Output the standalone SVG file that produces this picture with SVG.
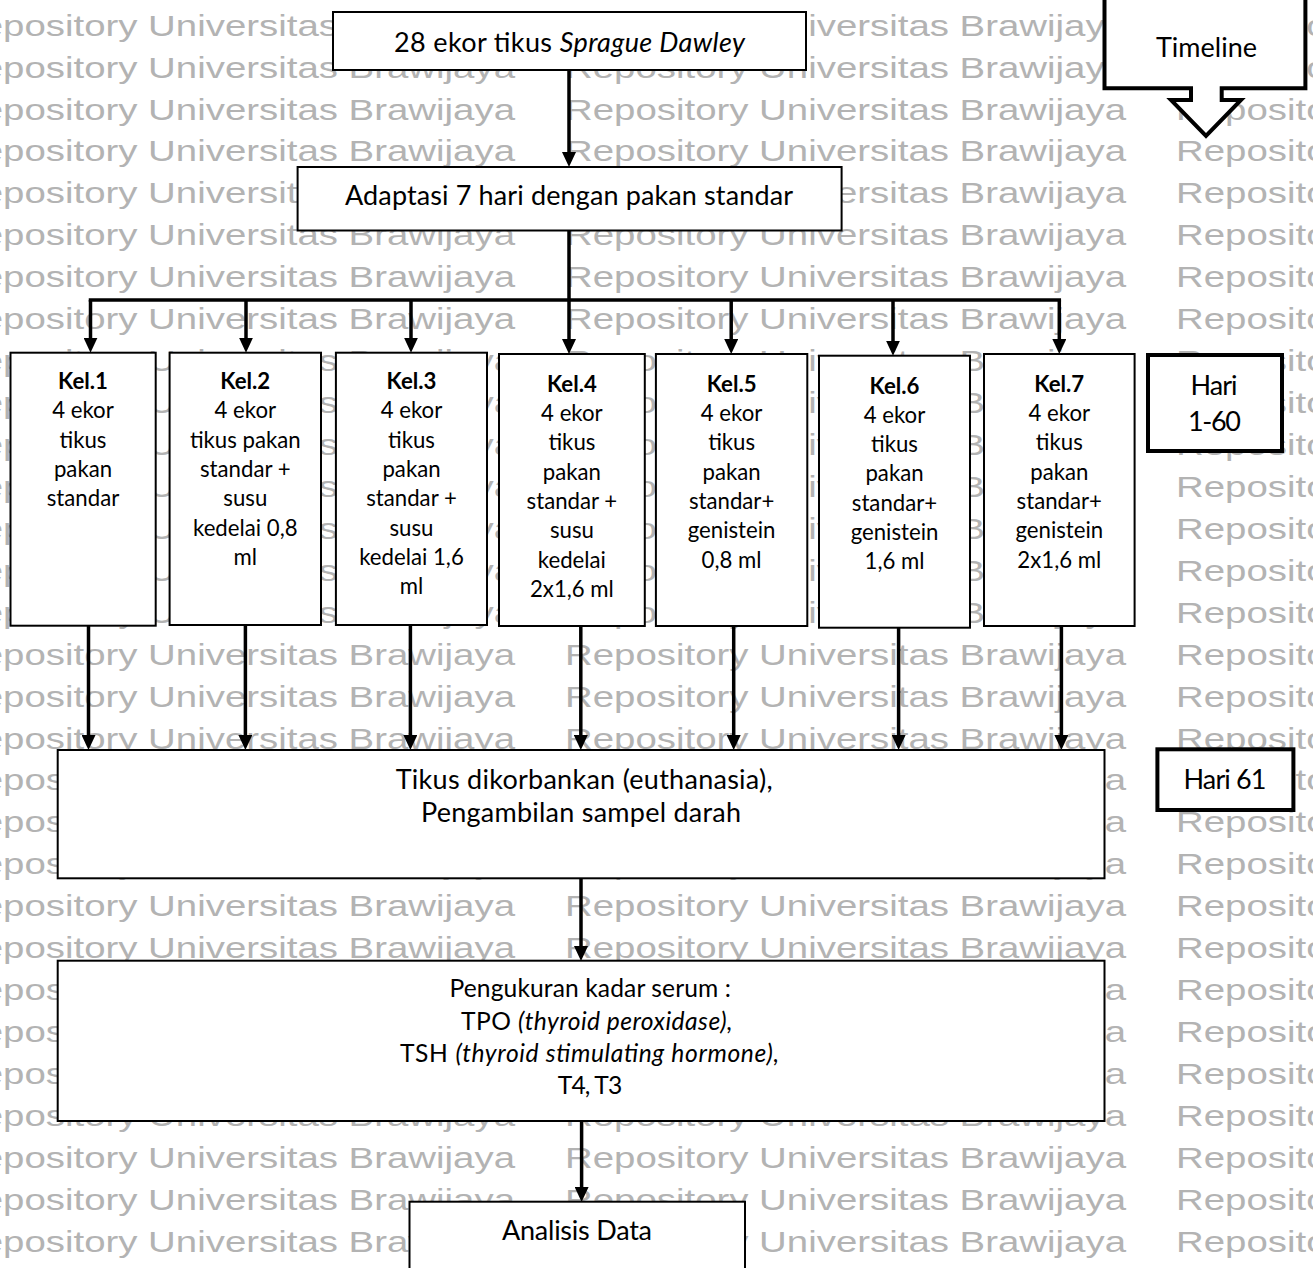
<svg xmlns="http://www.w3.org/2000/svg" xmlns:xlink="http://www.w3.org/1999/xlink" width="1313" height="1268" viewBox="0 0 1313 1268">
<style>
.wm{font-family:"Liberation Sans",Arial,sans-serif;font-size:30px;fill:#b3b3b3}
.box{fill:#fff;stroke:#000;stroke-width:2}
.thick{fill:#fff;stroke:#000;stroke-width:4}
.t{font-family:Lato,"Liberation Sans",sans-serif;fill:#000}
.main{font-size:27px}
.mid{text-anchor:middle}
.pg{font-size:24.6px}
.kel{font-size:22.2px;text-anchor:middle}
.kb{font-weight:bold}
.it{font-style:italic}
.conn line{stroke:#000;stroke-width:3.5;fill:none}
</style>
<defs>
<marker id="ah" markerUnits="userSpaceOnUse" markerWidth="15" markerHeight="14" viewBox="0 0 15 14" refX="5" refY="7" orient="auto">
<path d="M0,0 L15,7 L0,14 Z" fill="#000"/>
</marker>
<text id="wm" class="wm" textLength="561" lengthAdjust="spacingAndGlyphs">Repository Universitas Brawijaya</text>
<g id="wmrow"><use xlink:href="#wm" href="#wm" x="-46"/><use xlink:href="#wm" href="#wm" x="565"/><use xlink:href="#wm" href="#wm" x="1176"/></g>
</defs>
<rect width="1313" height="1268" fill="#fff"/>
<g id="watermark">
<use href="#wmrow" y="-6.2"/><use href="#wmrow" y="35.7"/><use href="#wmrow" y="77.63"/><use href="#wmrow" y="119.56"/><use href="#wmrow" y="161.49"/><use href="#wmrow" y="203.42"/><use href="#wmrow" y="245.35"/><use href="#wmrow" y="287.28"/><use href="#wmrow" y="329.21"/><use href="#wmrow" y="371.14"/><use href="#wmrow" y="413.07"/><use href="#wmrow" y="455"/><use href="#wmrow" y="496.93"/><use href="#wmrow" y="538.86"/><use href="#wmrow" y="580.79"/><use href="#wmrow" y="622.72"/><use href="#wmrow" y="664.65"/><use href="#wmrow" y="706.58"/><use href="#wmrow" y="748.51"/><use href="#wmrow" y="790.44"/><use href="#wmrow" y="832.37"/><use href="#wmrow" y="874.3"/><use href="#wmrow" y="916.23"/><use href="#wmrow" y="958.16"/><use href="#wmrow" y="1000.09"/><use href="#wmrow" y="1042.02"/><use href="#wmrow" y="1083.95"/><use href="#wmrow" y="1125.88"/><use href="#wmrow" y="1167.81"/><use href="#wmrow" y="1209.74"/><use href="#wmrow" y="1251.67"/>
</g>
<g class="conn" id="connectors">
<line x1="569" y1="70" x2="569" y2="157" marker-end="url(#ah)"/>
<line x1="569" y1="230" x2="569" y2="300"/>
<line x1="90.5" y1="300" x2="1059.3" y2="300" stroke-linecap="square"/>
<line x1="90.5" y1="300" x2="90.5" y2="342.7" marker-end="url(#ah)"/>
<line x1="246" y1="300" x2="246" y2="342.7" marker-end="url(#ah)"/>
<line x1="411" y1="300" x2="411" y2="342.7" marker-end="url(#ah)"/>
<line x1="569" y1="300" x2="569" y2="344" marker-end="url(#ah)"/>
<line x1="731.2" y1="300" x2="731.2" y2="344" marker-end="url(#ah)"/>
<line x1="893" y1="300" x2="893" y2="345.7" marker-end="url(#ah)"/>
<line x1="1059.3" y1="300" x2="1059.3" y2="344" marker-end="url(#ah)"/>
<line x1="88.5" y1="625.7" x2="88.5" y2="740" marker-end="url(#ah)"/>
<line x1="245.4" y1="625" x2="245.4" y2="740" marker-end="url(#ah)"/>
<line x1="410.4" y1="625" x2="410.4" y2="740" marker-end="url(#ah)"/>
<line x1="580.8" y1="626" x2="580.8" y2="740" marker-end="url(#ah)"/>
<line x1="733.7" y1="626" x2="733.7" y2="740" marker-end="url(#ah)"/>
<line x1="898.6" y1="627.7" x2="898.6" y2="740" marker-end="url(#ah)"/>
<line x1="1061.4" y1="626" x2="1061.4" y2="740" marker-end="url(#ah)"/>
<line x1="581" y1="878.3" x2="581" y2="951" marker-end="url(#ah)"/>
<line x1="581.6" y1="1121" x2="581.6" y2="1192" marker-end="url(#ah)"/>
</g>
<g id="start">
<rect class="box" x="333" y="12" width="473" height="58"/>
<text class="t main mid" x="569.5" y="51.5" textLength="351">28 ekor tikus <tspan class="it">Sprague Dawley</tspan></text>
</g>
<g id="adaptasi">
<rect class="box" x="297.6" y="167" width="544" height="63.5"/>
<text class="t main mid" x="569" y="205" textLength="448">Adaptasi 7 hari dengan pakan standar</text>
</g>
<g id="kel1">
<rect class="box" x="10.5" y="352.7" width="145.2" height="273"/>
<text class="t kel"><tspan class="kb" x="83" y="389">Kel.1</tspan><tspan x="83" y="418.3">4 ekor</tspan><tspan x="83" y="447.6">tikus</tspan><tspan x="83" y="476.9">pakan</tspan><tspan x="83" y="506.2">standar</tspan></text>
</g>
<g id="kel2">
<rect class="box" x="169.6" y="352.7" width="151.4" height="272.3"/>
<text class="t kel"><tspan class="kb" x="245.3" y="389">Kel.2</tspan><tspan x="245.3" y="418.3">4 ekor</tspan><tspan x="245.3" y="447.6">tikus pakan</tspan><tspan x="245.3" y="476.9">standar +</tspan><tspan x="245.3" y="506.2">susu</tspan><tspan x="245.3" y="535.5">kedelai 0,8</tspan><tspan x="245.3" y="564.8">ml</tspan></text>
</g>
<g id="kel3">
<rect class="box" x="335.9" y="352.7" width="151.1" height="272.3"/>
<text class="t kel"><tspan class="kb" x="411.5" y="389">Kel.3</tspan><tspan x="411.5" y="418.3">4 ekor</tspan><tspan x="411.5" y="447.6">tikus</tspan><tspan x="411.5" y="476.9">pakan</tspan><tspan x="411.5" y="506.2">standar +</tspan><tspan x="411.5" y="535.5">susu</tspan><tspan x="411.5" y="564.8">kedelai 1,6</tspan><tspan x="411.5" y="594.1">ml</tspan></text>
</g>
<g id="kel4">
<rect class="box" x="499" y="354" width="145.8" height="272"/>
<text class="t kel"><tspan class="kb" x="571.9" y="391.7">Kel.4</tspan><tspan x="571.9" y="421">4 ekor</tspan><tspan x="571.9" y="450.3">tikus</tspan><tspan x="571.9" y="479.6">pakan</tspan><tspan x="571.9" y="508.9">standar +</tspan><tspan x="571.9" y="538.2">susu</tspan><tspan x="571.9" y="567.5">kedelai</tspan><tspan x="571.9" y="596.8">2x1,6 ml</tspan></text>
</g>
<g id="kel5">
<rect class="box" x="655.9" y="354" width="151.4" height="272"/>
<text class="t kel"><tspan class="kb" x="731.6" y="391.7">Kel.5</tspan><tspan x="731.6" y="421">4 ekor</tspan><tspan x="731.6" y="450.3">tikus</tspan><tspan x="731.6" y="479.6">pakan</tspan><tspan x="731.6" y="508.9">standar+</tspan><tspan x="731.6" y="538.2">genistein</tspan><tspan x="731.6" y="567.5">0,8 ml</tspan></text>
</g>
<g id="kel6">
<rect class="box" x="819" y="355.7" width="151" height="272"/>
<text class="t kel"><tspan class="kb" x="894.5" y="393.5">Kel.6</tspan><tspan x="894.5" y="422.8">4 ekor</tspan><tspan x="894.5" y="452.1">tikus</tspan><tspan x="894.5" y="481.4">pakan</tspan><tspan x="894.5" y="510.7">standar+</tspan><tspan x="894.5" y="540">genistein</tspan><tspan x="894.5" y="569.3">1,6 ml</tspan></text>
</g>
<g id="kel7">
<rect class="box" x="984" y="354" width="150.6" height="272"/>
<text class="t kel"><tspan class="kb" x="1059.3" y="391.7">Kel.7</tspan><tspan x="1059.3" y="421">4 ekor</tspan><tspan x="1059.3" y="450.3">tikus</tspan><tspan x="1059.3" y="479.6">pakan</tspan><tspan x="1059.3" y="508.9">standar+</tspan><tspan x="1059.3" y="538.2">genistein</tspan><tspan x="1059.3" y="567.5">2x1,6 ml</tspan></text>
</g>
<g id="euthanasia">
<rect class="box" x="57.7" y="750" width="1046.8" height="128.3"/>
<text class="t main mid" x="584.2" y="789" textLength="377">Tikus dikorbankan (euthanasia),</text>
<text class="t main mid" x="581" y="822" textLength="320">Pengambilan sampel darah</text>
</g>
<g id="pengukuran">
<rect class="box" x="57.7" y="960.7" width="1046.8" height="160.3"/>
<text class="t pg" x="449.5" y="996.7" textLength="281.5">Pengukuran kadar serum :</text>
<text class="t pg" x="461" y="1030" textLength="271.5">TPO <tspan class="it">(thyroid peroxidase),</tspan></text>
<text class="t pg" x="400" y="1061.5" textLength="379">TSH <tspan class="it">(thyroid stimulating hormone),</tspan></text>
<text class="t pg" x="557.7" y="1094" textLength="64.5">T4, T3</text>
</g>
<g id="analisis">
<rect class="box" x="409.5" y="1201.7" width="335.5" height="75"/>
<text class="t main mid" x="577" y="1240" textLength="150">Analisis Data</text>
</g>
<g id="timeline">
<path class="thick" d="M1104.5,-4 H1305.4 V88.3 H1221.7 V100 H1241 L1206,136 L1171,100 H1191 V88.3 H1104.5 Z" stroke-linejoin="miter"/>
<text class="t main mid" x="1206.5" y="56.7" textLength="101">Timeline</text>
</g>
<g id="hari1-60">
<rect class="thick" x="1148" y="355" width="134" height="96"/>
<text class="t main mid" x="1214" y="395" textLength="47">Hari</text>
<text class="t main mid" x="1214.5" y="430.7" textLength="53">1-60</text>
</g>
<g id="hari61">
<rect class="thick" x="1157.4" y="749.3" width="136" height="60.7"/>
<text class="t main mid" x="1225" y="789.3" textLength="83">Hari 61</text>
</g>
</svg>
